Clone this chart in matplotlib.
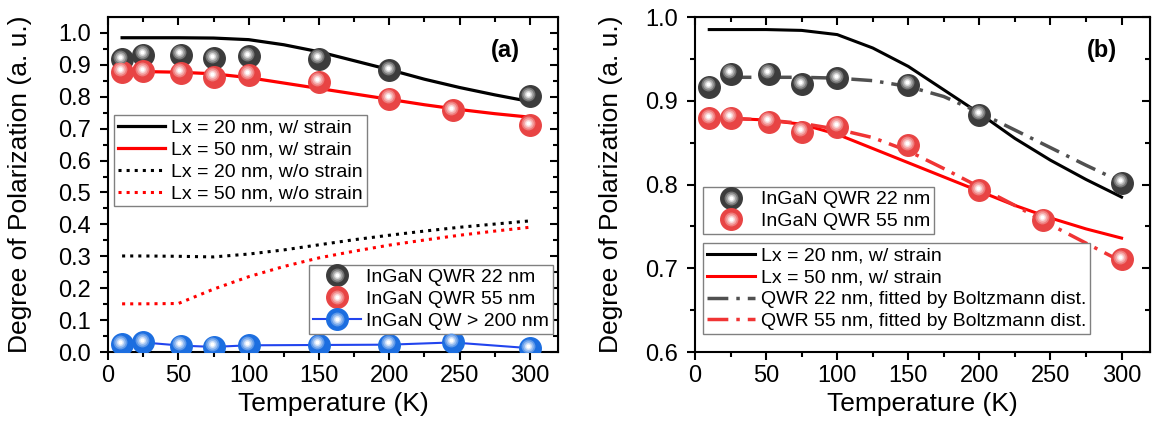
import numpy as np
import matplotlib
matplotlib.use("Agg")
import matplotlib.pyplot as plt
from matplotlib.lines import Line2D
from matplotlib.legend_handler import HandlerTuple
import matplotlib.transforms as mtransforms
from matplotlib.colors import to_rgb

plt.rcParams['font.family'] = ['Liberation Sans', 'DejaVu Sans']

# -----------------------------
# Data
# -----------------------------
T_22 = [10, 25, 52, 75, 100, 150, 200, 300]
P_22 = [0.917, 0.932, 0.932, 0.920, 0.927, 0.919, 0.883, 0.802]

T_55 = [10, 25, 52, 75, 100, 150, 200, 245, 300]
P_55 = [0.879, 0.880, 0.875, 0.863, 0.869, 0.847, 0.793, 0.758, 0.711]

T_qw = [10, 25, 52, 75, 100, 150, 200, 245, 300]
P_qw = [0.024, 0.030, 0.020, 0.016, 0.021, 0.022, 0.023, 0.030, 0.012]

# simulation curves
T_sim = [10, 25, 50, 75, 100, 125, 150, 175, 200, 225, 250, 275, 300]
P_20_strain = [0.985, 0.985, 0.985, 0.984, 0.979, 0.963, 0.941, 0.913, 0.885, 0.855, 0.829, 0.806, 0.785]
P_50_strain = [0.879, 0.879, 0.877, 0.872, 0.860, 0.843, 0.826, 0.809, 0.792, 0.775, 0.760, 0.747, 0.736]
P_20_nostrain = [0.301, 0.301, 0.300, 0.298, 0.307, 0.320, 0.336, 0.352, 0.366, 0.379, 0.391, 0.401, 0.411]
P_50_nostrain = [0.151, 0.151, 0.152, 0.197, 0.236, 0.268, 0.295, 0.316, 0.335, 0.351, 0.366, 0.379, 0.391]

# Boltzmann fits (panel b)
T_fit = [25, 50, 75, 100, 125, 150, 175, 200, 225, 250, 275, 300]
P_fit_22 = [0.928, 0.928, 0.928, 0.927, 0.924, 0.917, 0.905, 0.886, 0.865, 0.844, 0.823, 0.803]
P_fit_55 = [0.879, 0.877, 0.873, 0.866, 0.856, 0.840, 0.819, 0.797, 0.775, 0.752, 0.730, 0.708]

X_MAJOR = [0, 50, 100, 150, 200, 250, 300]
X_MINOR = [25, 75, 125, 175, 225, 275]

# -----------------------------
# Styles
# -----------------------------
C_BLK = '#3c3c3c'
C_RED = '#e84444'
C_BLUE = '#1c6ee0'
C_QWLINE = '#2244ee'
MS = 15.5

# highlight layers for the "sphere" look: (marker size, fraction of white)
SHADE = [(10, 0.3), (7.5, 0.55), (5, 0.8), (3, 1.0)]


def mix(color, f):
    c = np.array(to_rgb(color))
    return tuple(c + (1 - c) * f)


def spheres(ax, x, y, color, zorder=5):
    ax.plot(x, y, 'o', ms=MS, color=color, mec=color, zorder=zorder)
    off = mtransforms.offset_copy(ax.transData, fig=ax.figure, x=-1.2, y=1.8, units='points')
    for i, (s, f) in enumerate(SHADE):
        ax.plot(x, y, 'o', ms=s, color=mix(color, f), mec='none',
                transform=off, zorder=zorder + 1 + i)


def sphere_handle(color, line=None):
    big = Line2D([], [], marker='o', ms=MS, color=line if line else color,
                 mfc=color, mec=color, ls='-' if line else 'none', lw=1.5)
    parts = [big]
    for s, f in SHADE:
        parts.append(Line2D([], [], marker='o', ms=s, mfc=mix(color, f), mec='none', ls='none'))
    return tuple(parts)


def style_axes(ax, ylim, yticks, yminor, ylab_x):
    ax.set_xlim(0, 320)
    ax.set_ylim(*ylim)
    ax.set_xticks(X_MAJOR)
    ax.set_xticks(X_MINOR, minor=True)
    ax.set_yticks(yticks)
    ax.set_yticks(yminor, minor=True)
    ax.set_yticklabels([f'{v:.1f}' for v in yticks])
    ax.tick_params(which='both', direction='out', width=1.5, labelsize=17)
    ax.tick_params(which='major', length=6)
    ax.tick_params(which='minor', length=3.5)
    ax.tick_params(axis='y', pad=6)
    ax.tick_params(axis='x', pad=3)
    for s in ax.spines.values():
        s.set_linewidth(1.5)

    # top / right axes with inward ticks, no labels
    top = ax.secondary_xaxis('top')
    top.set_xticks(X_MAJOR)
    top.set_xticks(X_MINOR, minor=True)
    top.tick_params(which='both', direction='in', width=1.5, labeltop=False)
    top.tick_params(which='major', length=6)
    top.tick_params(which='minor', length=3.5)
    right = ax.secondary_yaxis('right')
    right.set_yticks(yticks)
    right.set_yticks(yminor, minor=True)
    right.tick_params(which='both', direction='in', width=1.5, labelright=False)
    right.tick_params(which='major', length=6)
    right.tick_params(which='minor', length=3.5)

    ax.set_xlabel('Temperature (K)', fontsize=19)
    ax.set_ylabel('Degree of Polarization (a. u.)', fontsize=19)
    ax.xaxis.set_label_coords(0.5, -0.118)
    ax.yaxis.set_label_coords(ylab_x, 0.5)


fig = plt.figure(figsize=(11.53, 4.24), dpi=100)

leg_kw = dict(frameon=True, fancybox=False, edgecolor='#808080', framealpha=1,
              fontsize=14, borderpad=0.2, handletextpad=0.3, borderaxespad=0,
              labelspacing=0.22, handlelength=2.45)

# -----------------------------
# Panel (a)
# -----------------------------
ax1 = fig.add_axes([0.0937, 0.1698, 0.3903, 0.7901])

l1, = ax1.plot(T_sim, P_20_strain, '-', color='black', lw=2.3, zorder=3)
l2, = ax1.plot(T_sim, P_50_strain, '-', color='red', lw=2.3, zorder=3)
l3, = ax1.plot(T_sim, P_20_nostrain, ':', color='black', lw=2.2, zorder=3)
l4, = ax1.plot(T_sim, P_50_nostrain, ':', color='red', lw=2.2, zorder=3)

ax1.plot(T_qw, P_qw, '-', color=C_QWLINE, lw=1.5, zorder=4)
spheres(ax1, T_22, P_22, C_BLK)
spheres(ax1, T_55, P_55, C_RED)
spheres(ax1, T_qw, P_qw, C_BLUE)

style_axes(ax1, (0, 1.05), np.round(np.arange(0, 1.01, 0.1), 2),
           np.round(np.arange(0.05, 1.05, 0.1), 2), -0.168)

leg1 = ax1.legend([l1, l2, l3, l4],
                  ['Lx = 20 nm, w/ strain', 'Lx = 50 nm, w/ strain',
                   'Lx = 20 nm, w/o strain', 'Lx = 50 nm, w/o strain'],
                  loc='upper left', bbox_to_anchor=(0.013, 0.707), **leg_kw)
leg1.get_frame().set_linewidth(1)
ax1.add_artist(leg1)

leg2 = ax1.legend([sphere_handle(C_BLK), sphere_handle(C_RED), sphere_handle(C_BLUE, C_QWLINE)],
                  ['InGaN QWR 22 nm', 'InGaN QWR 55 nm', 'InGaN QW > 200 nm'],
                  loc='lower right', bbox_to_anchor=(0.989, 0.054),
                  handler_map={tuple: HandlerTuple(ndivide=1)}, **leg_kw)
leg2.get_frame().set_linewidth(1)

ax1.text(0.882, 0.9, '(a)', transform=ax1.transAxes, fontsize=17,
         fontweight='bold', ha='center', va='center')

# -----------------------------
# Panel (b)
# -----------------------------
ax2 = fig.add_axes([0.6028, 0.1698, 0.3946, 0.7901])

m1, = ax2.plot(T_sim, P_20_strain, '-', color='black', lw=2.2, zorder=3)
m2, = ax2.plot(T_sim, P_50_strain, '-', color='red', lw=2.2, zorder=3)
m3, = ax2.plot(T_fit, P_fit_22, color='#505050', lw=2.5, zorder=3,
               dashes=(6, 2.3, 1, 2.3))
m4, = ax2.plot(T_fit, P_fit_55, color='#f03434', lw=2.5, zorder=3,
               dashes=(6, 2.3, 1, 2.3))
spheres(ax2, T_22, P_22, C_BLK)
spheres(ax2, T_55, P_55, C_RED)

style_axes(ax2, (0.6, 1.0), np.round(np.arange(0.6, 1.01, 0.1), 2),
           np.round(np.arange(0.65, 1.0, 0.1), 2), -0.158)

leg3 = ax2.legend([sphere_handle(C_BLK), sphere_handle(C_RED)],
                  ['InGaN QWR 22 nm', 'InGaN QWR 55 nm'],
                  loc='upper left', bbox_to_anchor=(0.018, 0.493),
                  handler_map={tuple: HandlerTuple(ndivide=1)}, **leg_kw)
leg3.get_frame().set_linewidth(1)
ax2.add_artist(leg3)

leg4 = ax2.legend([m1, m2, m3, m4],
                  ['Lx = 20 nm, w/ strain', 'Lx = 50 nm, w/ strain',
                   'QWR 22 nm, fitted by Boltzmann dist.',
                   'QWR 55 nm, fitted by Boltzmann dist.'],
                  loc='upper left', bbox_to_anchor=(0.018, 0.325), **leg_kw)
leg4.get_frame().set_linewidth(1)

ax2.text(0.895, 0.9, '(b)', transform=ax2.transAxes, fontsize=17,
         fontweight='bold', ha='center', va='center')

fig.savefig('out.png', dpi=100)
